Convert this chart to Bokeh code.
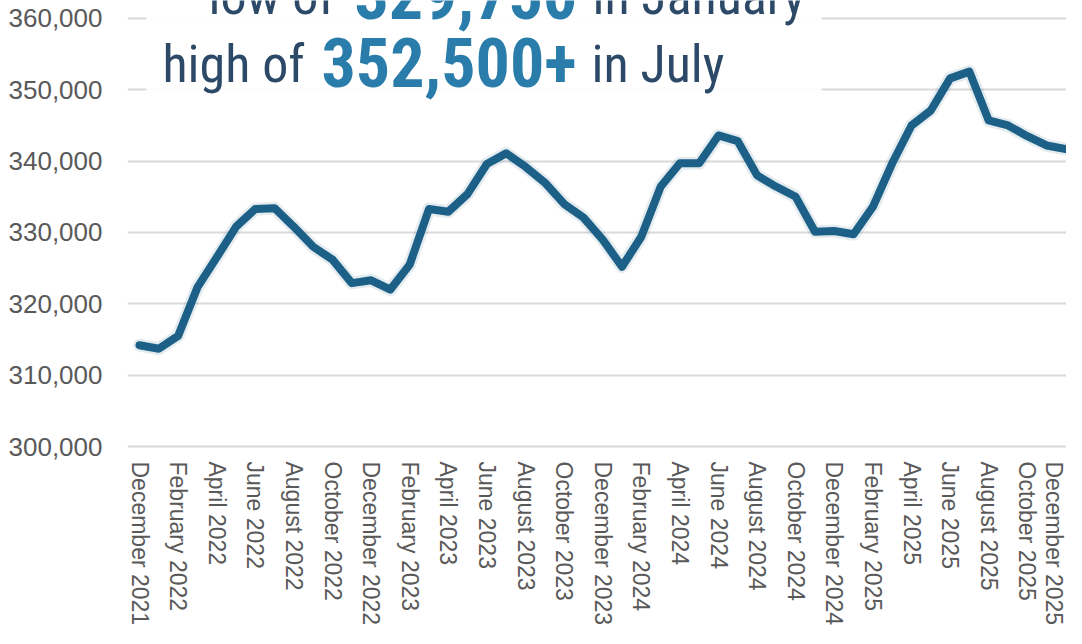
from bokeh.plotting import figure
from bokeh.models import (ColumnDataSource, FixedTicker, NumeralTickFormatter,
                          BoxAnnotation, Label, Range1d)
from bokeh.embed import file_html
from bokeh.resources import INLINE

# ---------------- data ----------------
month_names = ["January", "February", "March", "April", "May", "June", "July",
               "August", "September", "October", "November", "December"]
months = ["December 2021"] + [f"{m} {y}" for y in (2022, 2023, 2024, 2025) for m in month_names]

values = [314200, 313700, 315500, 322300, 326500, 330800, 333300, 333400,
          330800, 328000, 326200, 322900, 323300, 322000, 325500, 333300,
          332900, 335400, 339600, 341100, 339200, 337000, 334000, 332100,
          329000, 325200, 329400, 336400, 339700, 339700, 343600, 342800,
          338000, 336400, 335000, 330100, 330200, 329750, 333600, 339700,
          345000, 347100, 351600, 352550, 345700, 345000, 343500, 342200,
          341700]

y_ticks = [300000, 310000, 320000, 330000, 340000, 350000, 360000]

title_low = ["low of", "329,750", "in January"]
title_high = ["high of", "352,500+", "in July"]

# ---------------- layout ----------------
W, H = 1066, 628
FRAME_L, FRAME_H = 127, 450          # frame left edge / frame height (canvas px)
X0_PX, PX_PER_MONTH = 12, 19.3       # first month offset inside frame
Y_TOP, Y_BOT = 362517, 299580

x_start = -X0_PX / PX_PER_MONTH
x_end = x_start + (W - FRAME_L) / PX_PER_MONTH

p = figure(width=W, height=H, output_backend="svg", toolbar_location=None,
           x_range=Range1d(x_start, x_end), y_range=Range1d(Y_BOT, Y_TOP),
           min_border_left=FRAME_L, min_border_right=0, min_border_top=0,
           min_border_bottom=H - FRAME_H)
p.background_fill_color = "white"
p.border_fill_color = "white"
p.outline_line_color = None

# axes
label_color = "#595959"
p.xaxis.ticker = FixedTicker(ticks=list(range(0, len(months), 2)))
p.xaxis.major_label_overrides = {i: months[i] for i in range(0, len(months), 2)}
p.xaxis.major_label_orientation = "vertical"
p.xaxis.major_label_text_font = "Liberation Sans"
p.xaxis.major_label_text_font_size = "23px"
p.xaxis.major_label_text_color = label_color
p.xaxis.major_label_standoff = 6
p.xaxis.axis_line_color = None
p.xaxis.major_tick_line_color = None
p.xaxis.minor_tick_line_color = None

p.yaxis.ticker = FixedTicker(ticks=y_ticks)
p.yaxis.formatter = NumeralTickFormatter(format="0,0")
p.yaxis.major_label_text_font = "Liberation Sans"
p.yaxis.major_label_text_font_size = "26px"
p.yaxis.major_label_text_color = label_color
p.yaxis.major_label_standoff = 19
p.yaxis.axis_line_color = None
p.yaxis.major_tick_line_color = None
p.yaxis.minor_tick_line_color = None

p.xgrid.grid_line_color = None
p.ygrid.grid_line_color = "#d9d9d9"
p.ygrid.grid_line_width = 2

# data line
src = ColumnDataSource(dict(x=list(range(len(values))), y=values))
p.line("x", "y", source=src, line_color="#1d6087", line_width=13, line_alpha=0.12,
       line_join="round", line_cap="round")
p.line("x", "y", source=src, line_color="#1d6087", line_width=8,
       line_join="round", line_cap="round")

# helpers converting canvas pixel positions to data coordinates (for annotations)
def px_x(cx):
    return (cx - FRAME_L - X0_PX) / PX_PER_MONTH

def px_y(cy):
    return Y_TOP - cy * (Y_TOP - Y_BOT) / FRAME_H

# title box
p.add_layout(BoxAnnotation(left=px_x(146), right=px_x(821), bottom=px_y(96),
                           fill_color="white", fill_alpha=0.93, line_color=None))

navy = "#2c4a68"
blue = "#2a7dab"
font = "'Roboto Condensed', 'DejaVu Sans Condensed', 'Liberation Sans Narrow', Roboto, sans-serif"

def add_text(txt, cx, cy, color, size, style):
    p.add_layout(Label(x=px_x(cx), y=px_y(cy), text=txt, text_color=color,
                       text_font=font, text_font_size=size, text_font_style=style,
                       text_baseline="middle", text_align="left"))

# line 1 (mostly cut off at top)
add_text(title_low[0], 208, -4, navy, "52px", "normal")
add_text(title_low[1], 354, -6, blue, "68px", "bold")
add_text(title_low[2], 592, -4, navy, "52px", "normal")
# line 2
add_text(title_high[0], 162, 64, navy, "52px", "normal")
add_text(title_high[1], 321, 62, blue, "68px", "bold")
add_text(title_high[2], 591, 64, navy, "52px", "normal")

open("out.html", "w").write(file_html(p, INLINE))
